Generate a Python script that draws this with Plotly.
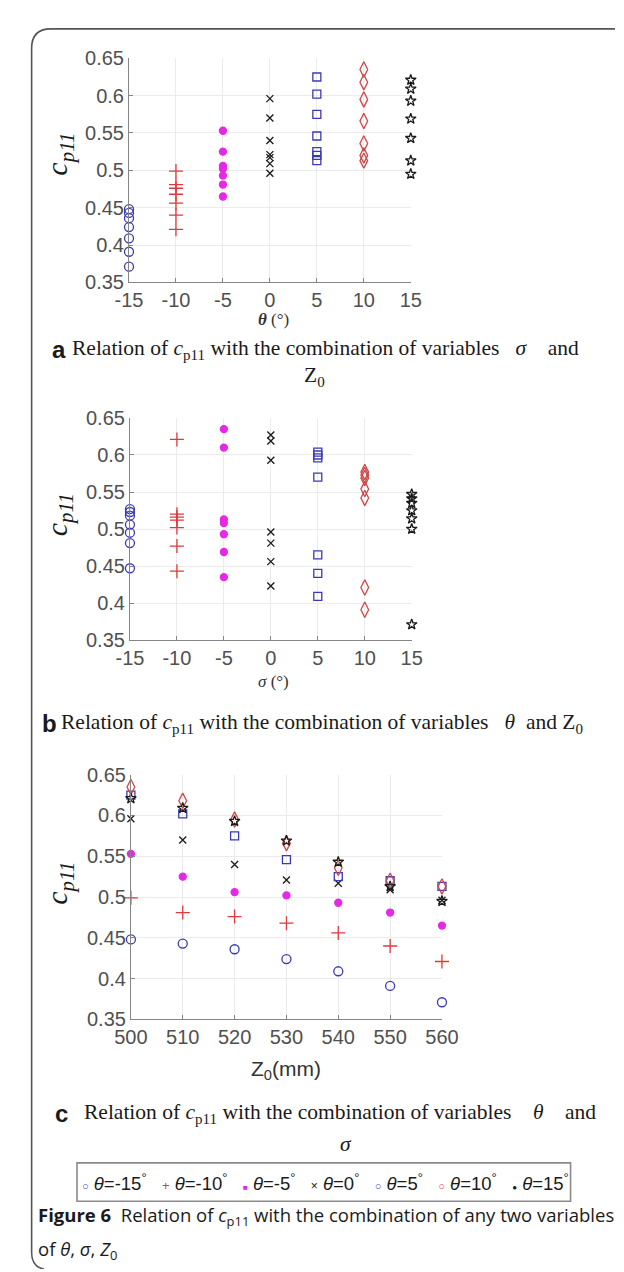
import plotly.graph_objects as go

W, H = 624, 1272

# ---------------- data ----------------
theta_vals = [-15, -10, -5, 0, 5, 10, 15]
sigma_vals = [-15, -10, -5, 0, 5, 10, 15]
z0_vals = [500, 510, 520, 530, 540, 550, 560]

legend_labels = ["-15", "-10", "-5", "0", "5", "10", "15"]

# c_p11 for each theta, over Z0 = 500..560 (panels a and c)
cp_theta_m15 = [0.448, 0.443, 0.436, 0.424, 0.409, 0.391, 0.371]
cp_theta_m10 = [0.499, 0.481, 0.476, 0.468, 0.456, 0.440, 0.421]
cp_theta_m5 = [0.553, 0.525, 0.506, 0.502, 0.493, 0.481, 0.465]
cp_theta_0 = [0.596, 0.570, 0.540, 0.521, 0.517, 0.509, 0.496]
cp_theta_5 = [0.625, 0.602, 0.575, 0.546, 0.525, 0.520, 0.513]
cp_theta_10 = [0.635, 0.618, 0.595, 0.566, 0.536, 0.520, 0.513]
cp_theta_15 = [0.621, 0.609, 0.593, 0.569, 0.543, 0.513, 0.495]

# c_p11 for each sigma group (panel b)
cp_sigma_m15 = [0.527, 0.523, 0.518, 0.506, 0.495, 0.481, 0.447]
cp_sigma_m10 = [0.621, 0.520, 0.516, 0.512, 0.502, 0.477, 0.443]
cp_sigma_m5 = [0.635, 0.610, 0.513, 0.508, 0.493, 0.469, 0.435]
cp_sigma_0 = [0.627, 0.619, 0.593, 0.496, 0.481, 0.456, 0.423]
cp_sigma_5 = [0.604, 0.600, 0.596, 0.570, 0.465, 0.440, 0.409]
cp_sigma_10 = [0.577, 0.573, 0.569, 0.554, 0.542, 0.421, 0.391]
cp_sigma_15 = [0.547, 0.541, 0.535, 0.525, 0.514, 0.500, 0.371]

y_tickvals = [0.35, 0.4, 0.45, 0.5, 0.55, 0.6, 0.65]
y_ticktext = ["0.35", "0.4", "0.45", "0.5", "0.55", "0.6", "0.65"]
ang_ticks = [-15, -10, -5, 0, 5, 10, 15]
z0_ticks = [500, 510, 520, 530, 540, 550, 560]

cp_theta = [cp_theta_m15, cp_theta_m10, cp_theta_m5, cp_theta_0,
            cp_theta_5, cp_theta_10, cp_theta_15]
cp_sigma = [cp_sigma_m15, cp_sigma_m10, cp_sigma_m5, cp_sigma_0,
            cp_sigma_5, cp_sigma_10, cp_sigma_15]

# ---------------- styles ----------------
BLUE = "#3a3ab6"
RED = "#e0383c"
MAG = "#e628e6"
BLK = "#1a1a1a"
RED2 = "#d04646"
styles = [
    dict(symbol="circle-open", color=BLUE, size=9, glyph="○", gs=11),
    dict(symbol="cross-thin-open", color=RED, size=10, glyph="+", gs=13),
    dict(symbol="circle", color=MAG, size=7, glyph="■", gs=8),
    dict(symbol="x-thin-open", color=BLK, size=7, glyph="×", gs=12),
    dict(symbol="square-open", color=BLUE, size=8, glyph="○", gs=11),
    dict(symbol="diamond-tall-open", color=RED2, size=11, glyph="○", gs=11),
    dict(symbol="star-open", color=BLK, size=8, glyph="●", gs=8),
]


def px_x(a, b):
    return [a / W, b / W]


def px_y(top, bottom):
    return [1 - bottom / H, 1 - top / H]


fig = go.Figure()


def add_pts(xs, ys, st, xa, ya, name):
    fig.add_trace(go.Scatter(
        x=xs, y=ys, mode="markers", xaxis=xa, yaxis=ya, showlegend=False,
        cliponaxis=False, name=name,
        marker=dict(symbol=st["symbol"], size=st["size"], color=st["color"],
                    line=dict(color=st["color"], width=1.3)),
        hoverinfo="x+y"))


# panel a: x = theta
for th, vals, st in zip(theta_vals, cp_theta, styles):
    add_pts([th] * len(vals), vals, st, "x", "y", f"θ={th}")
# panel b: x = sigma
for sg, vals, st in zip(sigma_vals, cp_sigma, styles):
    add_pts([sg] * len(vals), vals, st, "x2", "y2", f"σ={sg}")
# panel c: x = Z0
for th, vals, st in zip(theta_vals, cp_theta, styles):
    add_pts(z0_vals, vals, st, "x3", "y3", f"θ={th}")

tickfont = dict(family="Liberation Sans", size=20, color="#505050")
ax_common = dict(showline=True, linecolor="#858585", linewidth=1, mirror=False,
                 showgrid=True, gridcolor="#ebebeb", gridwidth=1, zeroline=False,
                 ticks="inside", ticklen=4, tickcolor="#858585",
                 tickfont=tickfont, fixedrange=True)

panels = [
    ("", (110, 408), (40, 268), [-15, 15], ang_ticks),
    ("2", (111, 409), (406, 632), [-15, 15], ang_ticks),
    ("3", (112, 441), (769, 1018), [500, 560], z0_ticks),
]
for sfx, (xl, xr), (yt, yb), xr_, xt in panels:
    fig.update_layout({
        "xaxis" + sfx: dict(ax_common, domain=px_x(xl, xr), range=xr_,
                            tickvals=xt, ticktext=[str(v) for v in xt],
                            anchor="y" + sfx),
        "yaxis" + sfx: dict(ax_common, domain=px_y(yt, yb), range=[0.35, 0.65],
                            tickvals=y_tickvals, ticktext=y_ticktext,
                            anchor="x" + sfx),
    })

# overlay pixel axis for texts/frame
fig.update_layout(
    xaxis4=dict(domain=[0, 1], range=[0, W], visible=False, anchor="y4", fixedrange=True),
    yaxis4=dict(domain=[0, 1], range=[H, 0], visible=False, anchor="x4", fixedrange=True),
)

serif = "Liberation Serif"
sans = "Liberation Sans"
ann = []


def txt(x, y, s, size, family, color="#1a1a1a", xanchor="center", angle=0):
    ann.append(dict(x=x, y=y, xref="x4", yref="y4", text=s, showarrow=False,
                    xanchor=xanchor, yanchor="middle", textangle=angle,
                    font=dict(size=size, family=family, color=color)))


cp_lab = "<i>c</i><sub><i>p11</i></sub>"
txt(36, 138, cp_lab, 30, serif, angle=-90)
txt(36, 505, cp_lab, 30, serif, angle=-90)
txt(36, 880, cp_lab, 30, serif, angle=-90)

txt(263, 306, "<b><i>θ</i></b> (°)", 17, serif, color="#333333")
txt(263, 674, "<i>σ</i> (°)", 17, serif, color="#333333")
txt(276, 1070, "Z<sub>0</sub>(mm)", 21, sans, color="#333333")

NB = "&nbsp;"
cap_rel = "Relation of <i>c</i><sub>p11</sub> with the combination of variables"
CAP = 21.5
txt(26, 336, "<b>a</b>", 24, sans, xanchor="left")
txt(48, 336, cap_rel + NB * 3 + "<i>σ</i>" + NB * 4 + "and", CAP, serif, xanchor="left")
txt(306, 364, "Z<sub>0</sub>", CAP, serif)

txt(16, 717, "<b>b</b>", 24, sans, xanchor="left")
txt(36, 717, cap_rel + NB * 3 + "<i>θ</i>" + NB * 2 + "and Z<sub>0</sub>", CAP, serif, xanchor="left")

txt(30, 1114, "<b>c</b>", 24, sans, xanchor="left")
txt(60, 1114, cap_rel + NB * 4 + "<i>θ</i>" + NB * 4 + "and", CAP, serif, xanchor="left")
txt(340, 1145, "<i>σ</i>", CAP, serif)

# legend row (drawn as text inside a box)
leg_parts = []
for lab, st in zip(legend_labels, styles):
    leg_parts.append(
        f"<span style='color:{st['color']};font-size:{st['gs']}px'>{st['glyph']}</span>"
        f"{NB}<i>θ</i>={lab}<sup>°</sup>")
txt(318, 1183, (NB * 3).join(leg_parts), 18.5, "Liberation Sans Narrow, Liberation Sans")

fig_sans = "Open Sans"
txt(12, 1218, "<b>Figure 6</b>" + NB * 2 + "Relation of <i>c</i><sub>p11</sub> with the combination of any two variables",
    18.5, fig_sans, xanchor="left")
txt(12, 1253, "of <i>θ</i>, <i>σ</i>, <i>Z</i><sub>0</sub>", 18.5, fig_sans, xanchor="left")

# frame + legend box
frame_path = ("M 624,10 L 27,10 Q 7,10 7,30 L 7,1255 Q 7,1270 20,1272")
shapes = [
    dict(type="path", path=frame_path, xref="x4", yref="y4",
         line=dict(color="#555555", width=1.6), layer="above"),
    dict(type="rect", x0=55, x1=577, y0=1164, y1=1203, xref="x4", yref="y4",
         line=dict(color="#8a8a8a", width=1.6), layer="below"),
]

fig.update_layout(
    width=W, height=H, margin=dict(l=0, r=0, t=0, b=0),
    paper_bgcolor="white", plot_bgcolor="rgba(0,0,0,0)",
    annotations=ann, shapes=shapes, showlegend=False,
)

fig.write_html("out.html")
